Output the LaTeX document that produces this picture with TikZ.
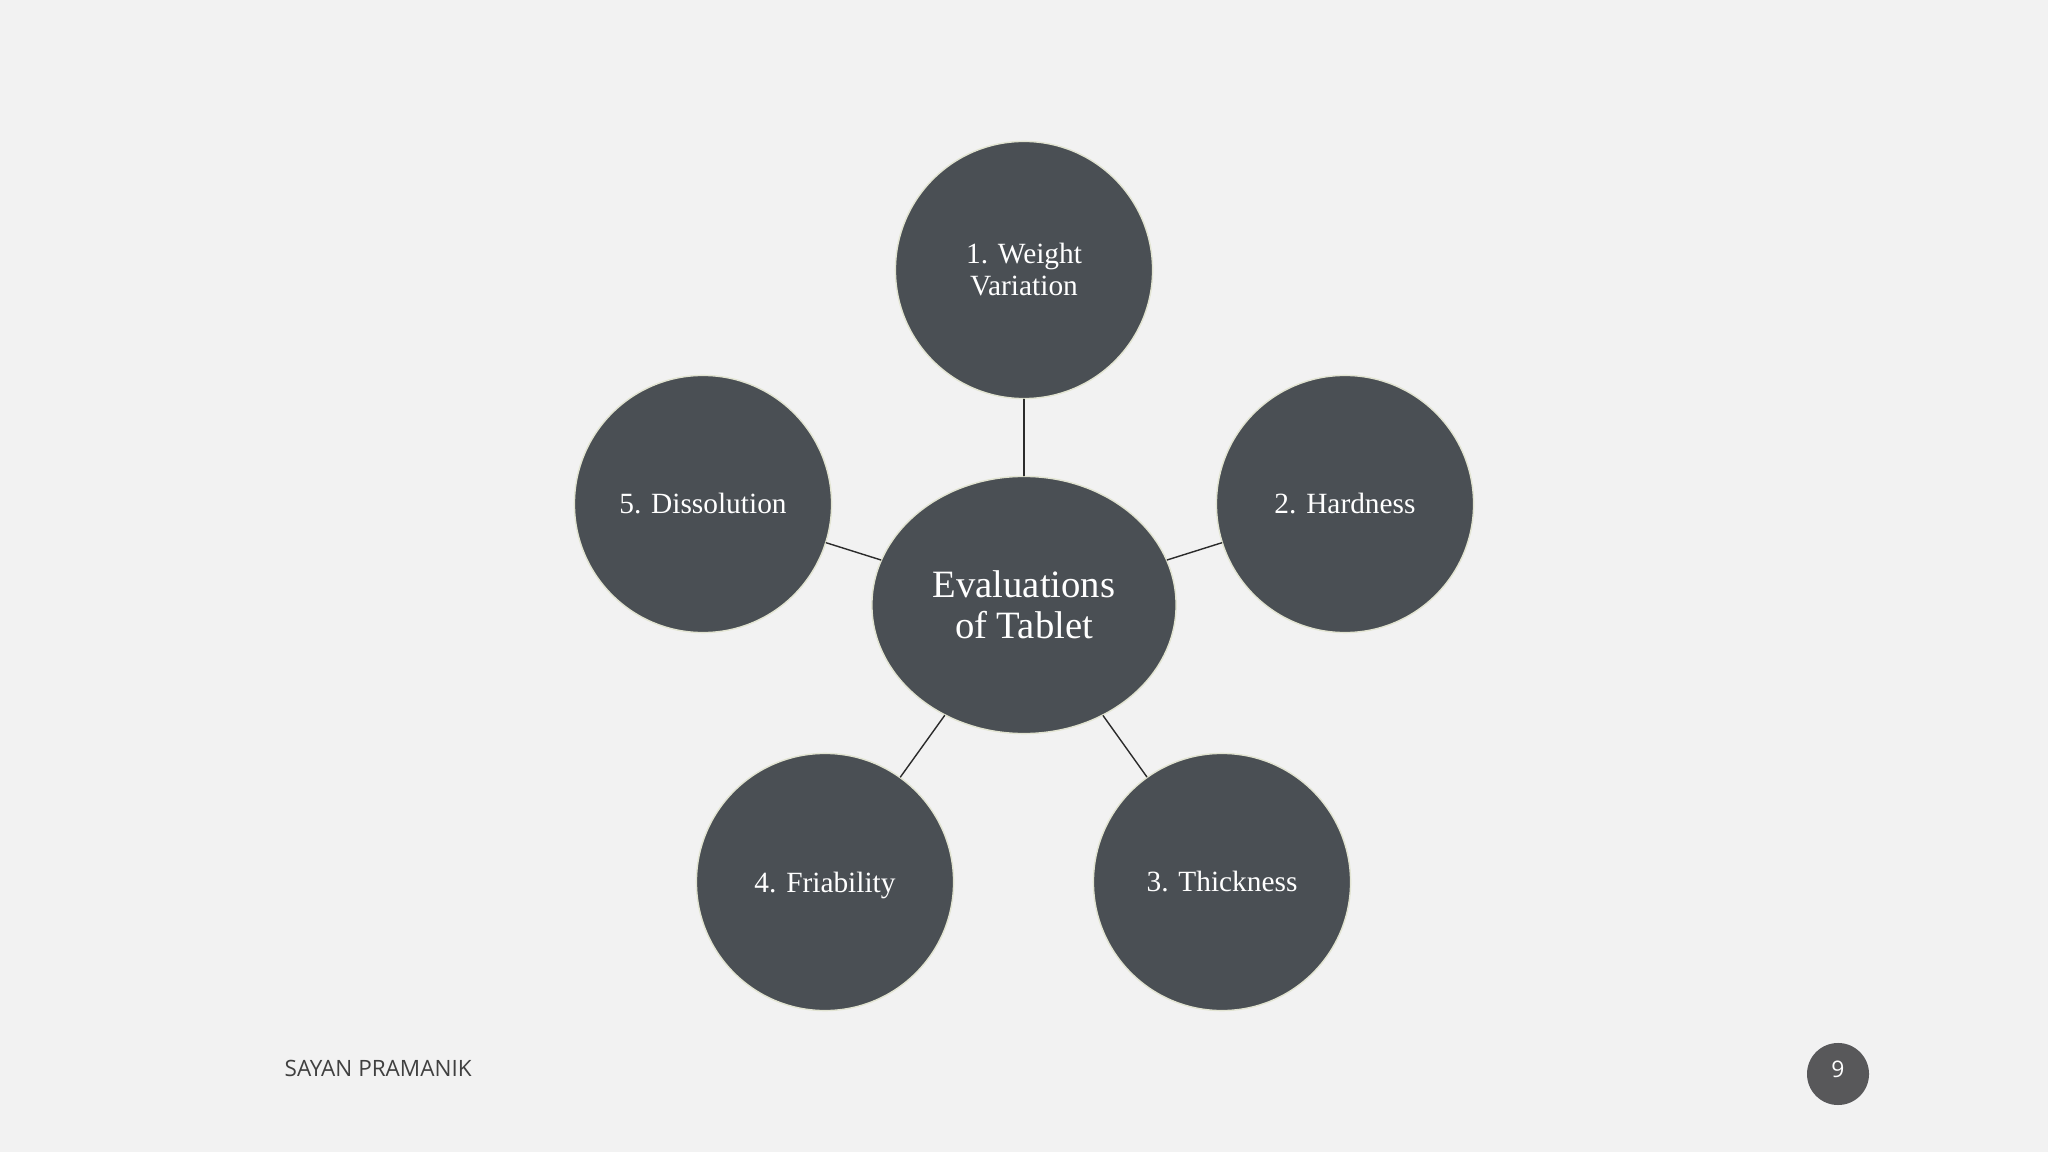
\documentclass[tikz,border=0pt]{standalone}
\usepackage{fontspec}
\setmainfont{Liberation Serif}
\newfontfamily\footfont{Open Sans}
\usetikzlibrary{shapes.geometric}
\definecolor{bgcol}{HTML}{F2F2F2}
\definecolor{bubble}{HTML}{4A4F54}
\definecolor{ringcol}{HTML}{E2E4D2}
\definecolor{pagecol}{HTML}{58585A}
\definecolor{linkcol}{HTML}{2B2B2B}
\definecolor{footcol}{HTML}{404040}
\tikzset{
	topic/.style={circle,fill=bubble,draw=ringcol,line width=0.4pt,minimum size=2.57cm,inner sep=0pt,
		text=white,align=center,font=\fontsize{8.35}{9.1}\selectfont},
	hub/.style={ellipse,fill=bubble,draw=ringcol,line width=0.4pt,minimum width=3.04cm,minimum height=2.57cm,
		inner sep=0pt,text=white,align=center,font=\fontsize{11}{11.6}\selectfont},
	link/.style={draw=linkcol,line width=0.4pt},
}
\begin{document}
\begin{tikzpicture}[x=0.01cm,y=-0.01cm,line cap=round]
	\fill[bgcol] (0,0) rectangle (2048,1152);
	% centre and the five tests
	\node[hub] (eval) at (1024,605) {Evaluations\\of Tablet};
	\node[topic] (weight) at (1024,270) {1. Weight\\Variation};
	\node[topic] (hard) at (1345,504) {2. Hardness};
	\node[topic] (thick) at (1222,882) {3. Thickness};
	\node[topic,text depth=0pt] (friab) at (825,882) {4. Friability};
	\node[topic] (dissol) at (703,504) {5. Dissolution};
	\foreach \n in {weight,hard,thick,friab,dissol}
		\draw[link] (eval) -- (\n);
	% footer
	\node[anchor=west,inner sep=0pt,text=footcol,font=\footfont\fontsize{6.4}{7}\selectfont] (author) at (284,1068) {SAYAN PRAMANIK};
	\node[circle,fill=pagecol,minimum size=0.62cm,inner sep=0pt,text depth=2.8pt,text=white,font=\footfont\fontsize{6.5}{7}\selectfont] (page) at (1838,1074) {9};
\end{tikzpicture}
\end{document}
